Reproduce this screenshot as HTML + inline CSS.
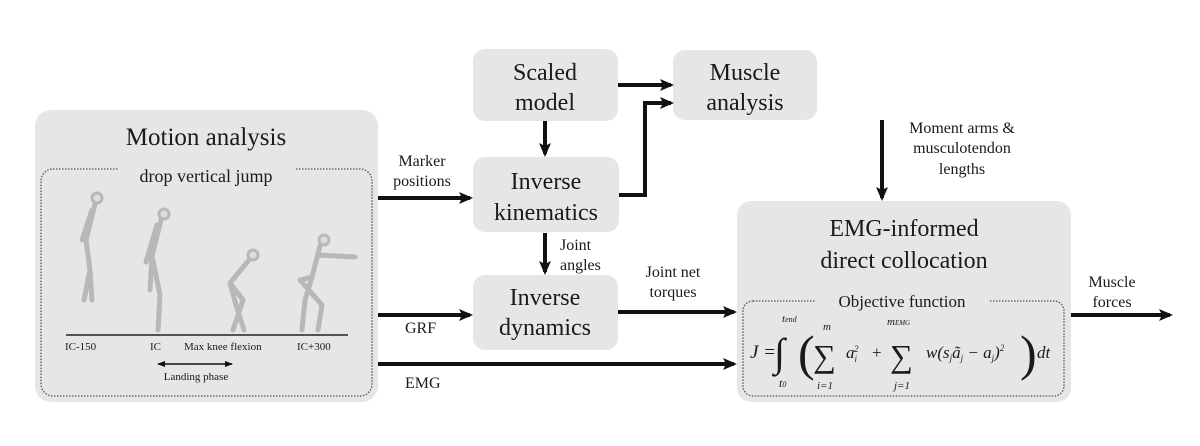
<!DOCTYPE html>
<html><head><meta charset="utf-8"><style>
body{margin:0;background:#fff;width:1200px;height:446px;overflow:hidden}
svg{display:block}
text{font-family:"Liberation Serif",serif;fill:#1a1a1a}
</style></head><body>
<svg width="1200" height="446" viewBox="0 0 1200 446" xmlns="http://www.w3.org/2000/svg">
<defs>
<marker id="a" markerWidth="14" markerHeight="12" refX="11" refY="6" orient="auto" markerUnits="userSpaceOnUse">
<path d="M0,0 L14,6 L0,12 L3,6 Z" fill="#111"/></marker>
<marker id="s" markerWidth="8" markerHeight="6" refX="7" refY="3" orient="auto" markerUnits="userSpaceOnUse">
<path d="M0,0 L8,3 L0,6 Z" fill="#111"/></marker>
<marker id="s2" markerWidth="8" markerHeight="6" refX="1" refY="3" orient="auto" markerUnits="userSpaceOnUse">
<path d="M8,0 L0,3 L8,6 Z" fill="#111"/></marker>
</defs>
<rect x="35" y="110" width="343" height="292" rx="16" fill="#e6e6e6"/>
<rect x="41" y="169" width="331" height="227" rx="12" fill="none" stroke="#555" stroke-width="1.3" stroke-dasharray="1.5,1.5"/>
<rect x="118" y="168" width="178" height="3" fill="#e6e6e6"/>
<text x="206" y="145" font-size="25" text-anchor="middle">Motion analysis</text>
<text x="206" y="182" font-size="18" text-anchor="middle">drop vertical jump</text>

<rect x="473" y="49" width="145" height="72" rx="12" fill="#e6e6e6"/>
<text x="545" y="80" font-size="24" text-anchor="middle">Scaled</text>
<text x="545" y="110" font-size="24" text-anchor="middle">model</text>
<rect x="673" y="50" width="144" height="70" rx="12" fill="#e6e6e6"/>
<text x="745" y="80" font-size="24" text-anchor="middle">Muscle</text>
<text x="745" y="110" font-size="24" text-anchor="middle">analysis</text>
<rect x="473" y="157" width="146" height="75" rx="12" fill="#e6e6e6"/>
<text x="546" y="189" font-size="24" text-anchor="middle">Inverse</text>
<text x="546" y="220" font-size="24" text-anchor="middle">kinematics</text>
<rect x="473" y="275" width="145" height="75" rx="12" fill="#e6e6e6"/>
<text x="545" y="305" font-size="24" text-anchor="middle">Inverse</text>
<text x="545" y="335" font-size="24" text-anchor="middle">dynamics</text>

<rect x="737" y="201" width="334" height="201" rx="14" fill="#e6e6e6"/>
<text x="904" y="236" font-size="24" text-anchor="middle">EMG-informed</text>
<text x="904" y="268" font-size="24" text-anchor="middle">direct collocation</text>
<rect x="743" y="301" width="321" height="95" rx="10" fill="none" stroke="#555" stroke-width="1.3" stroke-dasharray="1.5,1.5"/>
<rect x="815" y="299" width="174" height="4" fill="#e6e6e6"/>
<text x="902" y="307" font-size="17" text-anchor="middle">Objective function</text>
<g font-family="Liberation Serif,serif" font-style="italic">
<text x="750" y="358" font-size="19">J =</text>
<text x="774" y="366" font-size="40" font-style="normal">∫</text>
<text x="782" y="322" font-size="11">t<tspan font-size="8">end</tspan></text>
<text x="779" y="387" font-size="12">t<tspan font-size="8">0</tspan></text>
<text x="798" y="370" font-size="50" font-style="normal" fill="#333">(</text>
<text x="813" y="367" font-size="32" font-style="normal">∑</text>
<text x="823" y="330" font-size="11">m</text>
<text x="817" y="389" font-size="11">i=1</text>
<text x="846" y="358" font-size="17">a<tspan font-size="9" dy="4">i</tspan><tspan font-size="9" dy="-10" dx="-3">2</tspan></text>
<text x="872" y="358" font-size="17" font-style="normal">+</text>
<text x="890" y="367" font-size="32" font-style="normal">∑</text>
<text x="887" y="325" font-size="11">m<tspan font-size="7">EMG</tspan></text>
<text x="894" y="389" font-size="11">j=1</text>
<text x="926" y="358" font-size="17">w(s<tspan font-size="9" dy="3">j</tspan><tspan dy="-3">ã</tspan><tspan font-size="9" dy="3">j</tspan><tspan dy="-3"> − a</tspan><tspan font-size="9" dy="3">j</tspan><tspan dy="-3">)</tspan><tspan font-size="9" dy="-7">2</tspan></text>
<text x="1020" y="370" font-size="50" font-style="normal" fill="#333">)</text>
<text x="1037" y="358" font-size="17">dt</text>
</g>

<g stroke="#111" stroke-width="4" fill="none" marker-end="url(#a)">
<path d="M378 198 H470"/>
<path d="M378 315 H470"/>
<path d="M378 364 H734"/>
<path d="M618 312 H734"/>
<path d="M618 85 H671"/>
<path d="M619 195 H645 V103 H671"/>
<path d="M545 121 V154"/>
<path d="M545 233 V272"/>
<path d="M882 120 V198"/>
<path d="M1071 315 H1170"/>
</g>
<g font-size="16">
<text x="422" y="166" text-anchor="middle">Marker</text>
<text x="422" y="186" text-anchor="middle">positions</text>
<text x="560" y="250">Joint</text>
<text x="560" y="270">angles</text>
<text x="673" y="277" text-anchor="middle">Joint net</text>
<text x="673" y="297" text-anchor="middle">torques</text>
<text x="405" y="333">GRF</text>
<text x="405" y="388">EMG</text>
<text x="962" y="133" text-anchor="middle">Moment arms &amp;</text>
<text x="962" y="153" text-anchor="middle">musculotendon</text>
<text x="962" y="174" text-anchor="middle">lengths</text>
<text x="1112" y="287" text-anchor="middle">Muscle</text>
<text x="1112" y="307" text-anchor="middle">forces</text>
</g>

<g stroke="#b8b8b8" stroke-width="5" fill="none" stroke-linecap="round" stroke-linejoin="round">
<circle cx="97" cy="198" r="5" fill="#ddd" stroke-width="3"/>
<path d="M95 204 L86 240 L90 270 L84 300 M90 270 L92 300 M92 210 L82 240"/>
<circle cx="164" cy="214" r="5" fill="#ddd" stroke-width="3"/>
<path d="M161 220 L152 256 L160 295 L158 330 M152 256 L150 290 M157 225 L146 262"/>
<circle cx="253" cy="255" r="5" fill="#ddd" stroke-width="3"/>
<path d="M249 260 L230 283 L243 300 L233 330 M230 283 L236 305 L244 330"/>
<circle cx="324" cy="240" r="5" fill="#ddd" stroke-width="3"/>
<path d="M320 246 L312 277 M318 255 L355 257 M312 277 L300 280 L322 305 L318 330 M312 277 L305 300 L302 330"/>
</g>
<line x1="66" y1="335" x2="348" y2="335" stroke="#222" stroke-width="1.5"/>
<g font-size="11">
<text x="65" y="350">IC-150</text>
<text x="150" y="350">IC</text>
<text x="184" y="350">Max knee flexion</text>
<text x="297" y="350">IC+300</text>
<text x="196" y="380" text-anchor="middle">Landing phase</text>
</g>
<line x1="158" y1="364" x2="232" y2="364" stroke="#111" stroke-width="1.5" marker-end="url(#s)" marker-start="url(#s2)"/>
</svg>
</body></html>
